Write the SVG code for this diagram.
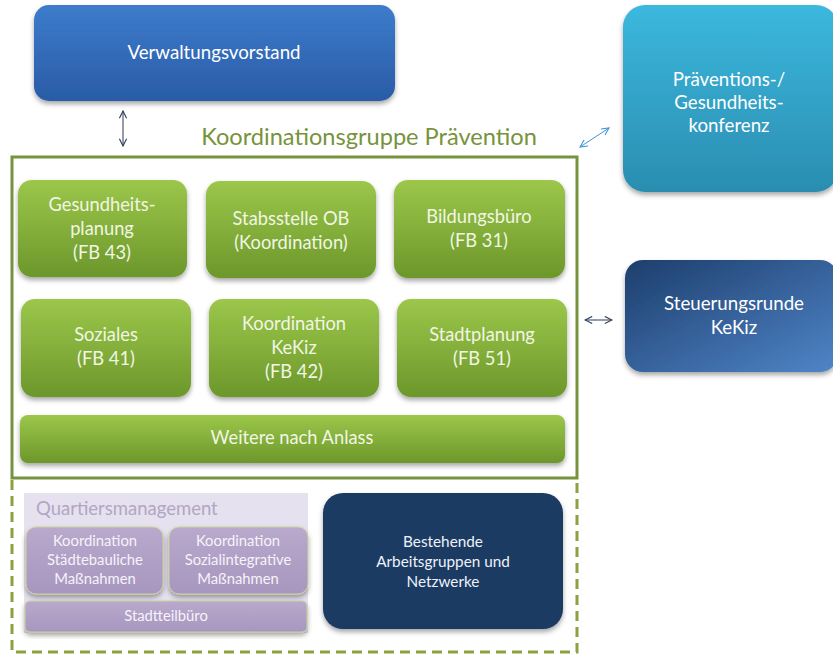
<svg xmlns="http://www.w3.org/2000/svg" width="833" height="654" viewBox="0 0 833 654">
<defs>
<linearGradient id="gBlue" x1="0" y1="0" x2="0" y2="1"><stop offset="0" stop-color="#3d7ccc"/><stop offset="1" stop-color="#2a5ba6"/></linearGradient>
<linearGradient id="gTeal" x1="0" y1="0" x2="0" y2="1"><stop offset="0" stop-color="#3cb8de"/><stop offset="1" stop-color="#2a8db0"/></linearGradient>
<linearGradient id="gNavy" x1="0" y1="0" x2="1" y2="1"><stop offset="0" stop-color="#1d3e6c"/><stop offset="1" stop-color="#4f85c8"/></linearGradient>
<linearGradient id="gGreen" x1="0" y1="0" x2="0" y2="1"><stop offset="0" stop-color="#9cc74a"/><stop offset="1" stop-color="#6c972b"/></linearGradient>
<linearGradient id="gPurple" x1="0" y1="0" x2="0" y2="1"><stop offset="0" stop-color="#b9a9cc"/><stop offset="1" stop-color="#a796be"/></linearGradient>
<filter id="sh" x="-10%" y="-10%" width="120%" height="130%"><feDropShadow dx="0" dy="3" stdDeviation="2.5" flood-color="#000" flood-opacity="0.35"/></filter>
<marker id="aNavy" viewBox="0 0 10 10" refX="9" refY="5" markerWidth="9" markerHeight="9" orient="auto-start-reverse" markerUnits="userSpaceOnUse"><path d="M1,1 L9,5 L1,9" fill="none" stroke="#2b3a55" stroke-width="1.2"/></marker>
<marker id="aBlue" viewBox="0 0 10 10" refX="9" refY="5" markerWidth="9" markerHeight="9" orient="auto-start-reverse" markerUnits="userSpaceOnUse"><path d="M1,1 L9,5 L1,9" fill="none" stroke="#3f94d6" stroke-width="1.2"/></marker>
</defs>
<style>
text{font-family:Lato,"Liberation Sans",sans-serif;text-anchor:middle}
.w{fill:#ffffff;font-size:18.7px}
.g{fill:#f1f6e4;font-size:18.3px}
.p{fill:#f6f3fa;font-size:14.8px}
.b{fill:#eef2f8;font-size:15.3px}
.green{fill:url(#gGreen);filter:url(#sh)}
.purple{fill:url(#gPurple);stroke:#c9d49a;stroke-width:1;filter:url(#sh)}
</style>
<rect width="833" height="654" fill="#ffffff"/>

<g id="verwaltungsvorstand">
<rect x="34" y="5" width="361" height="96" rx="15" fill="url(#gBlue)" filter="url(#sh)"/>
<text class="w" x="214" y="59">Verwaltungsvorstand</text>
</g>

<g id="praeventionskonferenz">
<rect x="623" y="5" width="215" height="187" rx="22" fill="url(#gTeal)" filter="url(#sh)"/>
<text class="w" x="729" y="86">Präventions-/</text>
<text class="w" x="729" y="109">Gesundheits-</text>
<text class="w" x="729" y="132">konferenz</text>
</g>

<g id="steuerungsrunde">
<rect x="625" y="260" width="213" height="112" rx="18" fill="url(#gNavy)" filter="url(#sh)"/>
<text class="w" x="734" y="310">Steuerungsrunde</text>
<text class="w" x="734" y="334">KeKiz</text>
</g>

<g id="koordinationsgruppe">
<text x="369" y="145" font-size="23.6" fill="#77933c">Koordinationsgruppe Prävention</text>
<rect x="12" y="157" width="565" height="321" fill="none" stroke="#77933c" stroke-width="3"/>
</g>

<g id="gesundheitsplanung">
<rect class="green" x="18" y="180" width="169" height="97" rx="14"/>
<text class="g" x="102" y="211">Gesundheits-</text>
<text class="g" x="102" y="235">planung</text>
<text class="g" x="102" y="259">(FB 43)</text>
</g>
<g id="stabsstelle">
<rect class="green" x="206" y="181" width="170" height="97" rx="14"/>
<text class="g" x="291" y="225">Stabsstelle OB</text>
<text class="g" x="291" y="249">(Koordination)</text>
</g>
<g id="bildungsbuero">
<rect class="green" x="394" y="180" width="171" height="98" rx="14"/>
<text class="g" x="479" y="223">Bildungsbüro</text>
<text class="g" x="479" y="247">(FB 31)</text>
</g>
<g id="soziales">
<rect class="green" x="21" y="299" width="170" height="98" rx="14"/>
<text class="g" x="106" y="341">Soziales</text>
<text class="g" x="106" y="365">(FB 41)</text>
</g>
<g id="koordination-kekiz">
<rect class="green" x="209" y="299" width="170" height="98" rx="14"/>
<text class="g" x="294" y="330">Koordination</text>
<text class="g" x="294" y="354">KeKiz</text>
<text class="g" x="294" y="378">(FB 42)</text>
</g>
<g id="stadtplanung">
<rect class="green" x="397" y="299" width="170" height="98" rx="14"/>
<text class="g" x="482" y="341">Stadtplanung</text>
<text class="g" x="482" y="365">(FB 51)</text>
</g>
<g id="weitere">
<rect class="green" x="20" y="415" width="545" height="48" rx="8"/>
<text class="g" x="292" y="444">Weitere nach Anlass</text>
</g>

<g id="dashed-frame">
<path d="M12,480 V652 H577 V480" fill="none" stroke="#8aa33f" stroke-width="3" stroke-dasharray="10 6"/>
</g>

<g id="quartiersmanagement">
<rect x="24" y="493" width="284" height="140" fill="#e6e1ee"/>
<text x="36" y="515" font-size="18.5" fill="#b2a6c6" style="text-anchor:start">Quartiersmanagement</text>
</g>
<g id="koord-staedtebau">
<rect class="purple" x="26" y="527" width="137" height="67" rx="10"/>
<text class="p" x="95" y="546">Koordination</text>
<text class="p" x="95" y="565">Städtebauliche</text>
<text class="p" x="95" y="584">Maßnahmen</text>
</g>
<g id="koord-sozial">
<rect class="purple" x="169" y="527" width="139" height="67" rx="10"/>
<text class="p" x="238" y="546">Koordination</text>
<text class="p" x="238" y="565">Sozialintegrative</text>
<text class="p" x="238" y="584">Maßnahmen</text>
</g>
<g id="stadtteilbuero">
<rect class="purple" x="25" y="601" width="282" height="31" rx="5"/>
<text class="p" x="166" y="621">Stadtteilbüro</text>
</g>

<g id="bestehende">
<rect x="323" y="493" width="240" height="136" rx="20" fill="#1b3a63" filter="url(#sh)"/>
<text class="b" x="443" y="547">Bestehende</text>
<text class="b" x="443" y="567">Arbeitsgruppen und</text>
<text class="b" x="443" y="587">Netzwerke</text>
</g>

<g id="connectors" fill="none">
<line x1="123" y1="111" x2="123" y2="146" stroke="#2b3a55" stroke-width="1" marker-start="url(#aNavy)" marker-end="url(#aNavy)"/>
<line x1="580" y1="147" x2="609" y2="128" stroke="#3f94d6" stroke-width="1" marker-start="url(#aBlue)" marker-end="url(#aBlue)"/>
<line x1="585" y1="320" x2="612" y2="320" stroke="#2b3a55" stroke-width="1" marker-start="url(#aNavy)" marker-end="url(#aNavy)"/>
</g>
</svg>
